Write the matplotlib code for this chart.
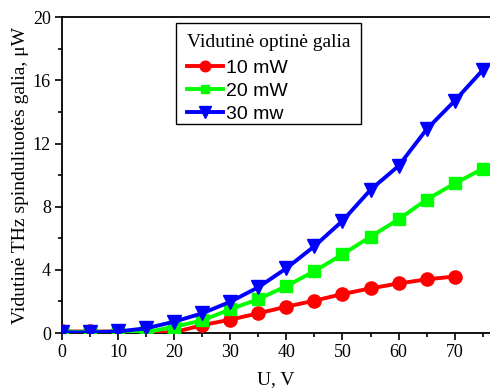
import matplotlib
matplotlib.use("Agg")
import matplotlib.pyplot as plt
from matplotlib.patches import Rectangle
from matplotlib.transforms import IdentityTransform
from matplotlib.ticker import MultipleLocator

# Bias voltage, V
u_10 = [0, 5, 10, 15, 20, 25, 30, 35, 40, 45, 50, 55, 60, 65, 70]
u_20 = [0, 5, 10, 15, 20, 25, 30, 35, 40, 45, 50, 55, 60, 65, 70, 75]
u_30 = [0, 5, 10, 15, 20, 25, 30, 35, 40, 45, 50, 55, 60, 65, 70, 75]

# Mean THz emitted power, uW
p_10 = [0.1, 0.1, 0.1, 0.03, 0.05, 0.5, 0.85, 1.25, 1.67, 2.05, 2.47, 2.83, 3.14, 3.4, 3.58]
p_20 = [0.08, 0.08, 0.08, 0.05, 0.4, 0.8, 1.5, 2.15, 2.97, 3.92, 4.98, 6.1, 7.2, 8.45, 9.47, 10.4]
p_30 = [0.04, 0.04, 0.1, 0.3, 0.72, 1.25, 1.98, 2.9, 4.1, 5.5, 7.1, 9.07, 10.58, 12.9, 14.7, 16.65]

labels = ["10 mW", "20 mW", "30 mw"]
legend_title = "Vidutinė optinė galia"
x_label = "U, V"
y_label = "Vidutinė THz spinduliuotės galia, μW"

serif = "Liberation Serif"
sans = "Liberation Sans"

fig = plt.figure(figsize=(4.9, 3.9), dpi=100)
ax = fig.add_axes([0.1265, 0.146, 0.8735, 0.81])

ax.plot(u_10, p_10, color="#ff0000", lw=2.8, marker="o", ms=9.5, label=labels[0], zorder=3)
ax.plot(u_20, p_20, color="#00ff00", lw=2.8, marker="s", ms=8, label=labels[1], zorder=3)
ax.plot(u_30, p_30, color="#0000ff", lw=2.8, marker="v", ms=10, label=labels[2], zorder=3)

ax.set_xlim(0, 76.3)
ax.set_ylim(0, 20)
ax.xaxis.set_major_locator(MultipleLocator(10))
ax.xaxis.set_minor_locator(MultipleLocator(5))
ax.yaxis.set_major_locator(MultipleLocator(4))
ax.yaxis.set_minor_locator(MultipleLocator(2))

ax.tick_params(which="major", direction="out", length=5, width=1.2, labelsize=13, pad=3)
ax.tick_params(which="minor", direction="out", length=3, width=1.2)
ax.tick_params(top=False, right=False)
for lab in ax.get_xticklabels() + ax.get_yticklabels():
    lab.set_fontfamily(serif)

for side in ["left", "bottom", "top"]:
    ax.spines[side].set_linewidth(1.3)
ax.spines["right"].set_visible(False)

ax.set_xlabel(x_label, fontfamily=serif, fontsize=14, labelpad=7)
ax.set_ylabel(y_label, fontfamily=serif, fontsize=14, labelpad=3)

leg = ax.legend(title=legend_title, loc="upper left", bbox_to_anchor=(0.266, 0.981),
                prop={"family": sans, "size": 14}, frameon=False,
                handlelength=1.9, handletextpad=0.15,
                labelspacing=0.28, borderpad=0.55, borderaxespad=0, markerscale=0.8)
leg.get_title().set_fontfamily(serif)
leg.get_title().set_fontsize(14)
leg._legend_box.align = "left"
leg._legend_box.sep = 6
leg.set_zorder(5)

# Legend frame with a tighter bottom edge
fig.canvas.draw()
bb = leg.get_window_extent()
trim = 10
frame = Rectangle((bb.x0, bb.y0 + trim), bb.width, bb.height - trim,
                  transform=IdentityTransform(), facecolor="white",
                  edgecolor="black", linewidth=1.0, zorder=4, clip_on=False)
ax.add_patch(frame)

fig.savefig("out.png", dpi=100)
